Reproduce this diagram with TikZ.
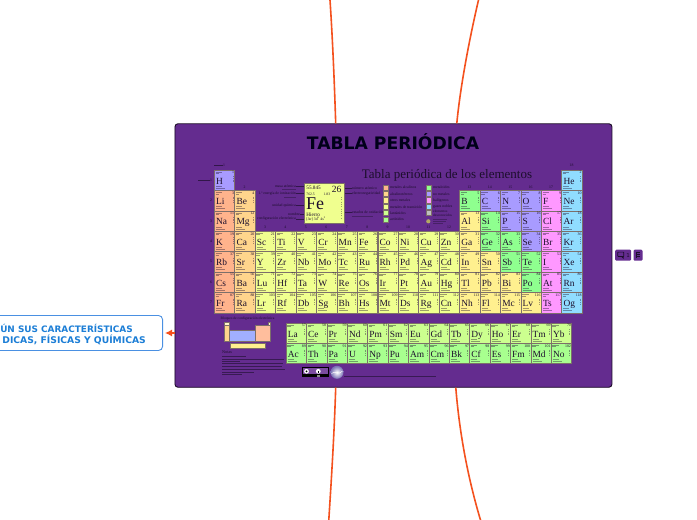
\documentclass[tikz,border=0pt]{standalone}
\usepackage{fontspec}
\setmainfont{Liberation Serif}
\newfontfamily\dvfont{DejaVu Sans}
\usetikzlibrary{arrows.meta,calc}
\definecolor{panelc}{HTML}{642C8F}
\definecolor{linkc}{HTML}{F4511E}
\definecolor{boxb}{HTML}{4A90E2}
\definecolor{boxt}{HTML}{1C7ED6}
\definecolor{calk}{HTML}{FFB38C}
\definecolor{cear}{HTML}{FFD58C}
\definecolor{ctra}{HTML}{F0FF8F}
\definecolor{cpos}{HTML}{FFF08F}
\definecolor{cmet}{HTML}{8FFF8F}
\definecolor{cnon}{HTML}{A89BFF}
\definecolor{chal}{HTML}{FF98FF}
\definecolor{cnob}{HTML}{90DDFF}
\definecolor{clan}{HTML}{CCFF8F}
\definecolor{cact}{HTML}{A8FF8F}
\definecolor{inkc}{HTML}{1C0E2C}
\definecolor{edgec}{HTML}{7D6F6A}
\tikzset{
  x=1pt,y=-1pt,
  elbox/.style={draw=edgec,line width=0.8pt,minimum width=20.4pt,minimum height=20.4pt,inner sep=0pt,anchor=north west},
  elsym/.style={font=\fontsize{9.4}{9.4}\selectfont,text=inkc,inner sep=0pt,anchor=base west},
  elnum/.style={font=\fontsize{3.9}{3.9}\selectfont,text=inkc,inner sep=0pt,anchor=east},
  greek/.style={draw=inkc,line width=0.3pt,draw opacity=0.4},
  notegreek/.style={draw=inkc,line width=0.4pt,draw opacity=0.6},
  tinytext/.style={font=\fontsize{3.8}{4}\selectfont,text=inkc,inner sep=0pt},
  link/.style={draw=linkc,line width=1.6pt},
  lead/.style={draw=inkc,line width=0.25pt,draw opacity=0.7},
  swatch/.style={draw=edgec,line width=0.4pt,minimum width=5.2pt,minimum height=5.2pt,inner sep=0pt},
  badge/.style={fill=panelc,rounded corners=1.2pt,inner sep=0pt,minimum height=11pt},
}
\newcommand\elcell[6]{% x y sym num style id
  \node[elbox,fill=#5] (c#4) at (#1,#2) {};
  \node[elsym] (s#4) at ([shift={(1.9,14.3)}]c#4.north west) {#3};
  \node[elnum] (n#4) at ([shift={(-1,3)}]c#4.north east) {#4};
  \draw[greek] ([shift={(1.5,2.3)}]c#4.north west) -- ++(6.5,0);
  \draw[greek] ([shift={(1.5,3.6)}]c#4.north west) -- ++(3.5,0);
  \draw[greek] ([shift={(2,16.2)}]c#4.north west) -- ++(6,0);
  \draw[greek] ([shift={(2,18.2)}]c#4.north west) -- ++(9,0);
  \draw[greek,dash pattern=on 0.5pt off 1.2pt] ([shift={(18.7,6.5)}]c#4.north west) -- ++(0,6);
}
\newcommand\rowcells[2]{%
  \foreach \s/\n/\c/\k in {#2}{%
    \pgfmathsetmacro\px{214+(\c-1)*20.44}%
    \pgfmathsetmacro\py{169.7+(#1-1)*20.4}%
    \elcell{\px}{\py}{\s}{\n}{\k}{}%
  }}
\newcommand\frow[3]{%
  \foreach \s/\n [count=\i from 0] in {#3}{%
    \pgfmathsetmacro\px{285.7+\i*20.4}%
    \elcell{\px}{#1}{\s}{\n}{#2}{}%
  }}
\begin{document}
\begin{tikzpicture}
\useasboundingbox (0,0) rectangle (697,520);
\fill[white] (0,0) rectangle (697,520);
% panel
\node[draw=black!75!panelc,line width=0.9pt,fill=panelc,rounded corners=3pt,minimum width=437pt,minimum height=263.5pt,inner sep=0pt,anchor=north west] (panel) at (174.5,123.3) {};
% connectors
\coordinate (t1) at (330,0);
\coordinate (t2) at (478.5,0);
\coordinate (b1) at (328.8,520);
\coordinate (b2) at (480.5,520);
\draw[link] ([xshift=161.2pt]panel.north west) .. controls (334,70) and (332,30) .. (t1);
\draw[link] ([xshift=282.3pt]panel.north west) .. controls (460,90) and (468,45) .. (t2);
\draw[link] ([xshift=161.2pt]panel.south west) .. controls (334,440) and (331,485) .. (b1);
\draw[link] ([xshift=281.3pt]panel.south west) .. controls (460,440) and (470,485) .. (b2);
% left box
\node[draw=boxb,line width=0.9pt,fill=white,rounded corners=4pt,minimum width=176pt,minimum height=35pt,inner sep=0pt,anchor=east] (lbox) at (163,333) {};
\node[inner sep=0pt,anchor=east,text=boxt,font=\dvfont\bfseries\fontsize{8.9}{10}\selectfont] (l1) at (133,328.8) {ÚN SUS CARACTERÍSTICAS};
\node[inner sep=0pt,anchor=east,text=boxt,font=\dvfont\bfseries\fontsize{9.2}{10}\selectfont] (l2) at (146,339.8) {DICAS, FÍSICAS Y QUÍMICAS};
\draw[draw=linkc,line width=1.2pt,-{Latex[length=7pt,width=7pt]},shorten >=2pt] (panel.west |- lbox.east) -- (lbox.east);
% right badges
\node[badge,minimum width=16pt,anchor=north west] (bd1) at (615,249.5) {};
\node[badge,minimum width=9pt,anchor=north west] (bd2) at (633.3,249.5) {};
\draw[draw=inkc,line width=0.7pt,rounded corners=0.5pt] ([shift={(2.8,2.6)}]bd1.north west) rectangle ++(6,4.4);
\draw[draw=inkc,line width=0.7pt] ([shift={(6.6,7)}]bd1.north west) -- ++(1.6,1.6) -- ++(0,-1.6);
\node[inner sep=0pt,text=inkc,font=\dvfont\fontsize{5.5}{6}\selectfont] (bd1t) at ([xshift=5pt]bd1.center) {1};
\draw[draw=inkc,line width=0.6pt] ([shift={(2.8,2.5)}]bd2.north west) -- ++(0,6);
\foreach \yy in {3,5,7}{\draw[draw=inkc,line width=0.5pt] ([shift={(3.8,\yy)}]bd2.north west) -- ++(3,0);}
% titles
\node[inner sep=0pt,text=black!90!blue,font=\dvfont\bfseries\fontsize{17.2}{19}\selectfont] (ttl) at (393,141.5) {TABLA PERIÓDICA};
\node[inner sep=0pt,text=inkc,font=\fontsize{13}{15}\selectfont] (sub) at (447,175) {Tabla periódica de los elementos};
% groups and periods
\foreach \g/\xx/\yy in {1/224/165.5,2/244.5/187,3/265/227,4/285.4/227,5/305.8/227,6/326.3/227,7/346.7/227,8/367.2/227,9/387.6/227,10/408/227,11/428.5/227,12/449/227,13/469.4/187,14/489.8/187,15/510.3/187,16/530.7/187,17/551.1/187,18/571.6/165.5}{
  \node[tinytext] (g\g) at (\xx,\yy) {\g};
}
\foreach \p/\yy in {1/180,2/200.4,3/220.8,4/241.2,5/261.6,6/282,7/302.4}{
  \node[tinytext] (p\p) at (211,\yy) {\p};
}
\draw[lead] (198,180) -- (p1.west);
\draw[lead] (214,165.5) -- (g1.west);
% main table
\rowcells{1}{H/1/1/cnon,He/2/18/cnob}
\rowcells{2}{Li/3/1/calk,Be/4/2/cear,B/5/13/cmet,C/6/14/cnon,N/7/15/cnon,O/8/16/cnon,F/9/17/chal,Ne/10/18/cnob}
\rowcells{3}{Na/11/1/calk,Mg/12/2/cear,Al/13/13/cpos,Si/14/14/cmet,P/15/15/cnon,S/16/16/cnon,Cl/17/17/chal,Ar/18/18/cnob}
\rowcells{4}{K/19/1/calk,Ca/20/2/cear,Sc/21/3/ctra,Ti/22/4/ctra,V/23/5/ctra,Cr/24/6/ctra,Mn/25/7/ctra,Fe/26/8/ctra,Co/27/9/ctra,Ni/28/10/ctra,Cu/29/11/ctra,Zn/30/12/ctra,Ga/31/13/cpos,Ge/32/14/cmet,As/33/15/cmet,Se/34/16/cnon,Br/35/17/chal,Kr/36/18/cnob}
\rowcells{5}{Rb/37/1/calk,Sr/38/2/cear,Y/39/3/ctra,Zr/40/4/ctra,Nb/41/5/ctra,Mo/42/6/ctra,Tc/43/7/ctra,Ru/44/8/ctra,Rh/45/9/ctra,Pd/46/10/ctra,Ag/47/11/ctra,Cd/48/12/ctra,In/49/13/cpos,Sn/50/14/cpos,Sb/51/15/cmet,Te/52/16/cmet,I/53/17/chal,Xe/54/18/cnob}
\rowcells{6}{Cs/55/1/calk,Ba/56/2/cear,Lu/71/3/ctra,Hf/72/4/ctra,Ta/73/5/ctra,W/74/6/ctra,Re/75/7/ctra,Os/76/8/ctra,Ir/77/9/ctra,Pt/78/10/ctra,Au/79/11/ctra,Hg/80/12/ctra,Tl/81/13/cpos,Pb/82/14/cpos,Bi/83/15/cpos,Po/84/16/cmet,At/85/17/chal,Rn/86/18/cnob}
\rowcells{7}{Fr/87/1/calk,Ra/88/2/cear,Lr/103/3/ctra,Rf/104/4/ctra,Db/105/5/ctra,Sg/106/6/ctra,Bh/107/7/ctra,Hs/108/8/ctra,Mt/109/9/ctra,Ds/110/10/ctra,Rg/111/11/ctra,Cn/112/12/ctra,Nh/113/13/cpos,Fl/114/14/cpos,Mc/115/15/cpos,Lv/116/16/cpos,Ts/117/17/chal,Og/118/18/cnob}
\frow{322.7}{clan}{La/57,Ce/58,Pr/59,Nd/60,Pm/61,Sm/62,Eu/63,Gd/64,Tb/65,Dy/66,Ho/67,Er/68,Tm/69,Yb/70}
\frow{343}{cact}{Ac/89,Th/90,Pa/91,U/92,Np/93,Pu/94,Am/95,Cm/96,Bk/97,Cf/98,Es/99,Fm/100,Md/101,No/102}
% Fe key
\node[draw=edgec,line width=0.9pt,fill=ctra,minimum width=40.3pt,minimum height=40pt,inner sep=0pt,anchor=north west] (fe) at (304,182.7) {};
\node[inner sep=0pt,anchor=base west,text=inkc,font=\fontsize{5.2}{5.2}\selectfont] (fem) at (306.2,189.2) {55.845};
\node[inner sep=0pt,anchor=base east,text=inkc,font=\fontsize{9.5}{9.5}\selectfont] (fen) at (341.5,192.5) {26};
\node[inner sep=0pt,anchor=base west,text=inkc,font=\fontsize{3.7}{3.7}\selectfont] (fei) at (306.2,195.3) {762.5};
\node[inner sep=0pt,anchor=base west,text=inkc,font=\fontsize{3.7}{3.7}\selectfont] (fee) at (323.5,195.3) {1.83};
\node[inner sep=0pt,anchor=base west,text=inkc,font=\fontsize{18}{18}\selectfont] (fes) at (305.8,209) {Fe};
\node[inner sep=0pt,anchor=base west,text=inkc,font=\fontsize{5.2}{5.2}\selectfont] (fea) at (306.2,216.6) {Hierro};
\node[inner sep=0pt,anchor=base west,text=inkc,font=\fontsize{3.8}{3.8}\selectfont] (fec) at (306.2,220.8) {[Ar] 3d\textsuperscript{6} 4s\textsuperscript{2}};
\draw[greek,dash pattern=on 0.7pt off 1.6pt,line width=0.5pt] (341,197) -- (341,218);
% key labels, left
\foreach \nm/\t/\xx/\yy in {ka/masa atómica/296/185.8,kb/1.ª energía de ionización/296/193.3,kc/unidad química/296/205.3,kd/nombre/300/214,ke/configuración electrónica/296/219}{
  \node[tinytext,anchor=east] (\nm) at (\xx,\yy) {\t};
  \draw[lead] (\nm.east) -- (fe.west |- \nm.east);
}
\draw[greek] (282,189) -- (296,189);
\draw[greek] (284,197.5) -- (296,197.5);
% key labels, right
\foreach \nm/\t/\yy in {kf/número atómico/188,kg/electronegatividad/193.5,kh/estados de oxidación/212}{
  \node[tinytext,anchor=west] (\nm) at (352,\yy) {\t};
  \draw[lead] (\nm.west) -- (fe.east |- \nm.west);
}
\draw[greek] (352,216) -- (373,216);
% legend
\foreach \nm/\k/\t/\yy in {la/calk/metales alcalinos/187.5,lb/cear/alcalinotérreos/193.7,lc/cpos/otros metales/200.2,ld/ctra/metales de transición/206.8,le/clan/lantánidos/213,lf/cact/actínidos/219.5}{
  \node[swatch,fill=\k] (\nm) at (385.5,\yy) {};
  \node[tinytext,anchor=west] (\nm t) at (390,\yy) {\t};
}
\foreach \nm/\k/\t/\yy in {lg/cmet/metaloides/187.5,lh/cnon/no metales/193.7,li/chal/halógenos/200.2,lj/cnob/gases nobles/206.8}{
  \node[swatch,fill=\k] (\nm) at (428.5,\yy) {};
  \node[tinytext,anchor=west] (\nm t) at (433,\yy) {\t};
}
\node[swatch,fill=black!25] (lk) at (428.5,213) {};
\node[tinytext,anchor=west,align=left,font=\fontsize{3.5}{3.5}\selectfont] (lkt) at (433,213.5) {elementos\\desconocidos};
\fill[cpos!70!black] (428.3,221.3) circle (2.1pt);
\draw[greek] (433,219.5) -- (447,219.5) (433,221.5) -- (446,221.5) (433,223.5) -- (443,223.5);
% block mini table
\node[inner sep=0pt,text=inkc,font=\fontsize{3.6}{4}\selectfont] (bt) at (247.5,318.5) {Bloques de configuración electrónica};
\path[draw=edgec,line width=0.6pt,fill=cear] (224,325) rectangle (228.8,341.3);
\path[draw=edgec,line width=0.4pt,fill=cpos!50!white] (224,322) rectangle (228.8,325);
\path[draw=edgec,line width=0.6pt,fill=cnon!70!cnob] (229.3,330.3) rectangle (254.8,341.3);
\path[draw=edgec,line width=0.6pt,fill=calk!85!white] (255.2,324.8) rectangle (270.2,341.3);
\path[draw=edgec,line width=0.4pt,fill=cpos!50!white] (268,322) rectangle (270.2,325);
\path[draw=edgec,line width=0.6pt,fill=cpos] (230,343.3) rectangle (265.3,348);
\node[inner sep=0pt,anchor=west,text=inkc,font=\fontsize{4.2}{5}\selectfont] (nt) at (222,352.3) {Notas};
\draw[notegreek] (222,356.3) -- (246,356.3) (222,359) -- (284,359) (222,361.2) -- (240,361.2) (222,363.5) -- (283,363.5) (222,366.5) -- (282,366.5) (222,369.3) -- (285,369.3) (222,372) -- (254,372) (222,374.3) -- (242,374.3);
% licence
\fill[black] (302,367.3) rectangle (328.5,377);
\fill[panelc!85!white] (303,368.2) rectangle (327.5,374);
\fill[white] (306.5,371.3) circle (2.4pt);
\fill[black] (306.5,371.3) circle (1pt);
\fill[white] (318.3,371.3) circle (2.4pt);
\fill[black] (318.3,370.8) rectangle (318.9,373);
\fill[black!45] (316.8,374.5) rectangle (319.8,377);
\shade[inner color=white,outer color=cnon!70!black] (337,372.3) circle (6.5pt);
\draw[white,line width=0.5pt] (331.5,373.5) .. controls (335,370) and (339,376) .. (342.5,371);
\draw[notegreek] (344,376.2) -- (436,376.2);
\end{tikzpicture}
\end{document}
